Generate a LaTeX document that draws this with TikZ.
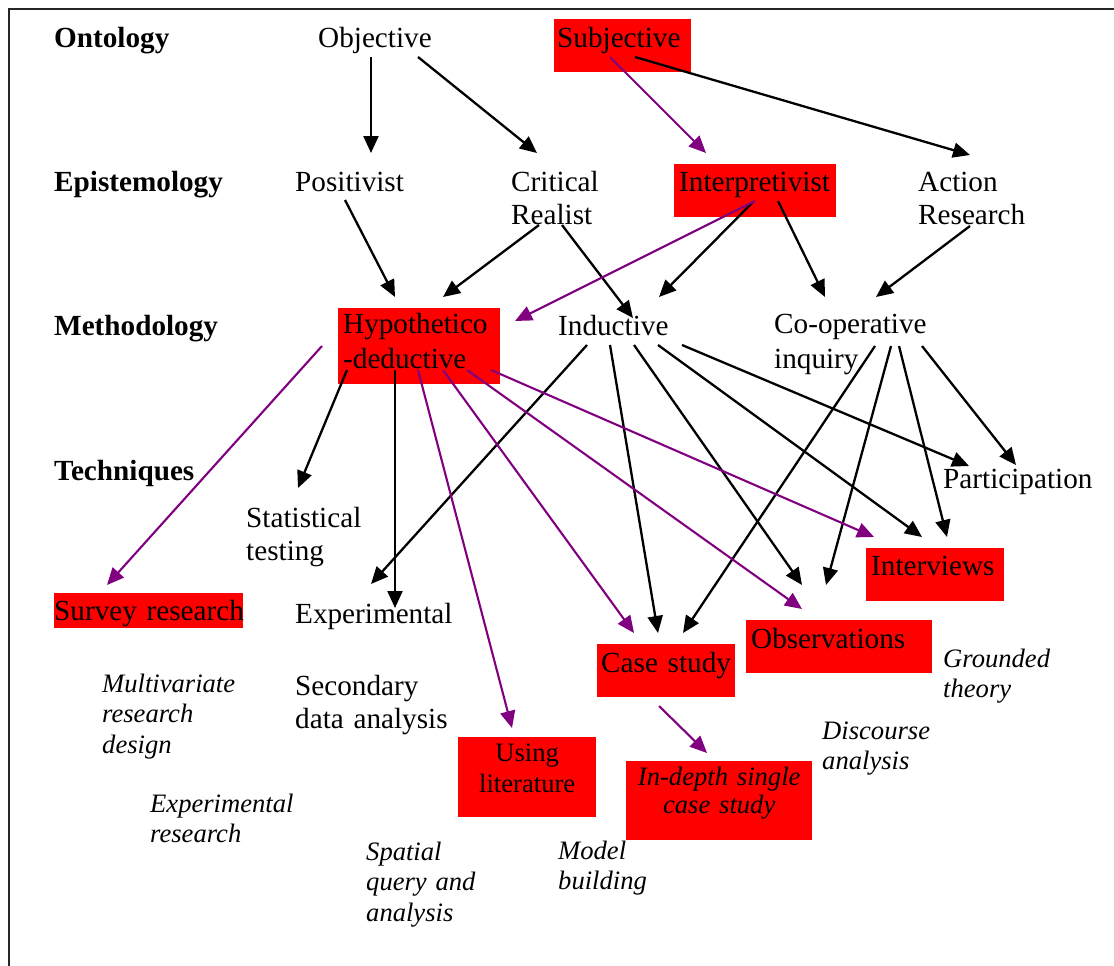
\documentclass[tikz,border=0pt]{standalone}
\usepackage{fontspec}
\setmainfont{Liberation Serif}
\usetikzlibrary{arrows.meta}
\definecolor{boxred}{RGB}{255,0,0}
\definecolor{linkpurple}{RGB}{128,0,128}

\begin{document}
\begin{tikzpicture}[x=1pt,y=-1pt,
  rowlabel/.style={inner sep=0pt, anchor=base west, font=\fontsize{29.2}{33.5}\selectfont\bfseries},
  txt/.style={inner sep=0pt, anchor=base west, align=left, text width=220pt, font=\fontsize{29.2}{33.5}\selectfont},
  note/.style={inner sep=0pt, anchor=base west, align=left, text width=200pt, font=\fontsize{26.6}{30.6}\selectfont\itshape},
  hl/.style={fill=boxred, anchor=north west, inner ysep=0pt, align=left, font=\fontsize{29.2}{33.5}\selectfont},
  hlsmall/.style={fill=boxred, anchor=north west, inner sep=0pt, align=center},
  arr/.style={line width=2.3pt, -{Triangle[length=17pt,width=15pt]}},
  parr/.style={arr, line width=2.1pt, draw=linkpurple, fill=linkpurple},
]
\useasboundingbox (0,0) rectangle (1114,966);

% frame
\draw[line width=1.8pt, black!85] (9,966) -- (9,9) -- (1114,9);

% row labels
\node[rowlabel] (onto) at (54,48) {Ontology};
\node[rowlabel] (epis) at (54,191) {Epistemology};
\node[rowlabel] (meth) at (54,335) {Methodology};
\node[rowlabel] (tech) at (54,480) {Techniques};

% ontology
\node[txt] (obj) at (318,48) {Objective};
\node[hl, inner xsep=3pt, text width=131pt, text height=28pt, text depth=25pt] (subj) at (554,19) {Subjective};

% epistemology
\node[txt] (pos) at (295,191) {Positivist};
\node[txt] (crit) at (511,191) {Critical\\Realist};
\node[hl, inner xsep=5pt, text width=152pt, text height=27pt, text depth=26pt] (interp) at (674,164) {\mbox{Interpretivist}};
\node[txt] (act) at (918,191) {Action\\Research};

% methodology
\node[hl, inner xsep=5pt, text width=152pt, text height=25pt, text depth=51pt] (hypo) at (338,308) {Hypothetico\\[1.5pt]-deductive};
\node[txt] (ind) at (558,335) {Inductive};
\node[txt] (coop) at (774,333) {Co-operative\\[1.5pt]inquiry};

% techniques
\node[txt] (stat) at (246,527) {Statistical\\testing};
\node[txt] (part) at (943,488) {Participation};
\node[hl, inner xsep=0pt, text width=189pt, text height=27pt, text depth=8pt] (survey) at (54,593) {\mbox{Survey research}};
\node[txt] (exp) at (295,623) {Experimental};
\node[hl, inner xsep=5pt, text width=128pt, text height=27pt, text depth=26pt] (interv) at (866,548) {Interviews};
\node[hl, inner xsep=5pt, text width=176pt, text height=28pt, text depth=25pt] (obs) at (746,620) {Observations};
\node[hl, inner xsep=4pt, text width=130pt, text height=28pt, text depth=25pt] (case) at (597,644) {\mbox{Case study}};
\node[txt] (sec) at (295,695) {Secondary\\data analysis};
\node[hlsmall, text width=138pt, text height=24pt, text depth=56pt, font=\fontsize{26.6}{31}\selectfont] (using) at (458,737) {Using\\literature};
\node[hlsmall, text width=186pt, text height=24pt, text depth=55pt, font=\fontsize{26.6}{28.5}\selectfont\itshape] (indepth) at (626,761) {In-depth single\\case study};

% analysis notes
\node[note] (multi) at (102,692) {Multivariate\\research\\design};
\node[note] (expres) at (150,812) {Experimental\\research};
\node[note] (spatial) at (366,860) {Spatial\\query and\\analysis};
\node[note] (model) at (558,859) {Model\\building};
\node[note] (disc) at (822,739) {Discourse\\analysis};
\node[note] (ground) at (943,667) {Grounded\\theory};

% black links
\draw[arr] ([shift={(53,9)}]obj.base west) -- ([shift={(76,-38)}]pos.base west);
\draw[arr] ([shift={(100,9)}]obj.base west) -- ([shift={(26,-38)}]crit.base west);
\draw[arr] ([shift={(81,38)}]subj.north west) -- ([shift={(52,-36)}]act.base west);
\draw[arr] ([shift={(50,9)}]pos.base west) -- ([shift={(57,-11)}]hypo.north west);
\draw[arr] ([shift={(28,34)}]crit.base west) -- ([shift={(105,-11)}]hypo.north west);
\draw[arr] ([shift={(51,34)}]crit.base west) -- ([shift={(75,-17)}]ind.base west);
\draw[arr] ([shift={(79,38)}]interp.north west) -- ([shift={(101,-38)}]ind.base west);
\draw[arr] ([shift={(104,37)}]interp.north west) -- ([shift={(51,-36)}]coop.base west);
\draw[arr] ([shift={(52,35)}]act.base west) -- ([shift={(102,-36)}]coop.base west);
\draw[arr] ([shift={(9,62)}]hypo.north west) -- ([shift={(52,-39)}]stat.base west);
\draw[arr] ([shift={(57,62)}]hypo.north west) -- ([shift={(100,-15)}]exp.base west);
\draw[arr] ([shift={(29,10)}]ind.base west) -- ([shift={(76,-39)}]exp.base west);
\draw[arr] ([shift={(52,10)}]ind.base west) -- ([shift={(61,-11)}]case.north west);
\draw[arr] ([shift={(76,10)}]ind.base west) -- ([shift={(56,-35)}]obs.north west);
\draw[arr] ([shift={(100,10)}]ind.base west) -- ([shift={(56,-11)}]interv.north west);
\draw[arr] ([shift={(124,10)}]ind.base west) -- ([shift={(26,-22)}]part.base west);
\draw[arr] ([shift={(101,13)}]coop.base west) -- ([shift={(86,-11)}]case.north west);
\draw[arr] ([shift={(117,13)}]coop.base west) -- ([shift={(80,-35)}]obs.north west);
\draw[arr] ([shift={(125,13)}]coop.base west) -- ([shift={(81,-11)}]interv.north west);
\draw[arr] ([shift={(148,13)}]coop.base west) -- ([shift={(73,-23)}]part.base west);

% purple links
\draw[parr] ([shift={(56,38)}]subj.north west) -- ([shift={(32,-11)}]interp.north west);
\draw[parr] ([shift={(81,37)}]interp.north west) -- ([shift={(177,13)}]hypo.north west);
\draw[parr] ([shift={(-16,38)}]hypo.north west) -- ([shift={(53,-8)}]survey.north west);
\draw[parr] ([shift={(80,62)}]hypo.north west) -- ([shift={(54,-9)}]using.north west);
\draw[parr] ([shift={(105,62)}]hypo.north west) -- ([shift={(37,-11)}]case.north west);
\draw[parr] ([shift={(129,62)}]hypo.north west) -- ([shift={(56,-11)}]obs.north west);
\draw[parr] ([shift={(153,62)}]hypo.north west) -- ([shift={(8,-11)}]interv.north west);
\draw[parr] ([shift={(62,62)}]case.north west) -- ([shift={(81,-8)}]indepth.north west);
\end{tikzpicture}
\end{document}
